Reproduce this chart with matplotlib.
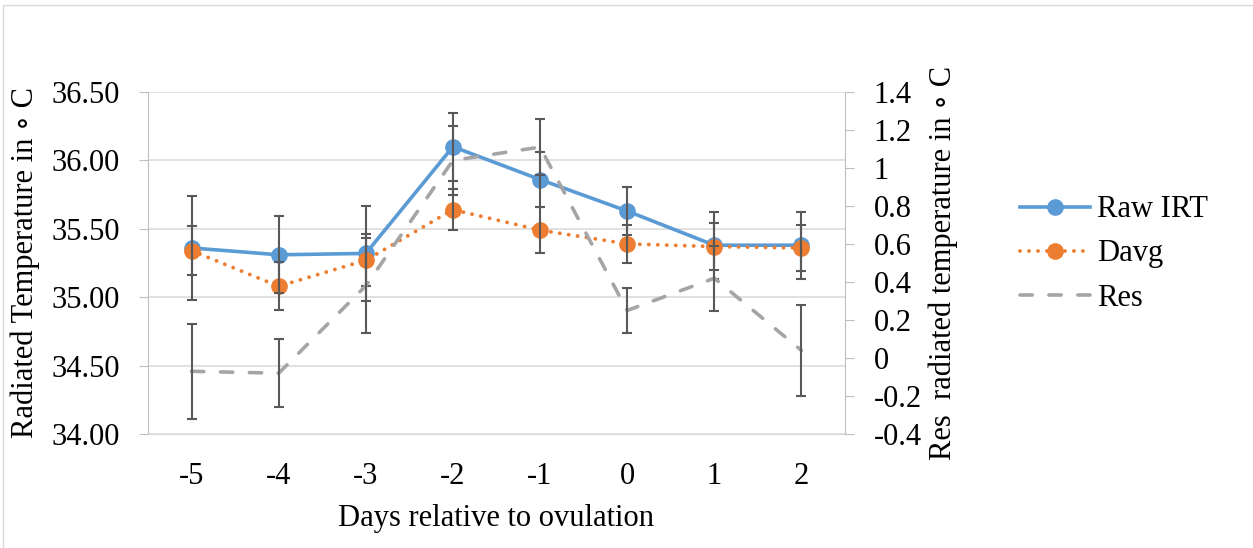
import matplotlib
matplotlib.use('Agg')
import matplotlib.pyplot as plt
from matplotlib.patches import Rectangle
from matplotlib.ticker import FuncFormatter

plt.rcParams['font.family'] = ['Liberation Serif', 'DejaVu Serif']
plt.rcParams['font.size'] = 22
plt.rcParams['axes.unicode_minus'] = False

# data
days = ['-5', '-4', '-3', '-2', '-1', '0', '1', '2']
raw_irt = [35.36, 35.31, 35.32, 36.10, 35.86, 35.63, 35.38, 35.38]
raw_err = [0.38, 0.28, 0.35, 0.25, 0.20, 0.175, 0.245, 0.245]
davg = [35.34, 35.08, 35.27, 35.64, 35.49, 35.39, 35.37, 35.36]
davg_err = [0.18, 0.175, 0.19, 0.15, 0.17, 0.14, 0.17, 0.167]
res = [-0.07, -0.08, 0.38, 1.04, 1.11, 0.25, 0.42, 0.04]
res_err = [0.25, 0.18, 0.25, 0.18, 0.147, 0.117, 0.17, 0.24]

left_ticks = [34.0, 34.5, 35.0, 35.5, 36.0, 36.5]
right_ticks = [-0.4, -0.2, 0, 0.2, 0.4, 0.6, 0.8, 1.0, 1.2, 1.4]

blue = '#5B9BD5'
orange = '#ED7D31'
grey = '#A5A5A5'
bar_col = '#595959'
W, H = 1253, 548

fig = plt.figure(figsize=(W / 100, H / 100), dpi=100)
ax = fig.add_axes([148 / W, 1 - 434 / H, 697 / W, 342 / H])
x = list(range(len(days)))

ax.set_xlim(-0.5, len(days) - 0.5)
ax.set_ylim(34.0, 36.5)
ax.set_xticks(x)
ax.set_xticklabels(days)
ax.set_yticks(left_ticks)
ax.yaxis.set_major_formatter(FuncFormatter(lambda v, p: f'{v:.2f}'))
ax.grid(axis='y', color='#D9D9D9', lw=1.1)
ax.set_axisbelow(True)
ax.spines['top'].set_visible(False)
ax.spines['right'].set_visible(False)
ax.spines['left'].set_color('#BFBFBF')
ax.spines['bottom'].set_color('#D9D9D9')
ax.tick_params(axis='y', length=6.5, color='#BFBFBF', pad=14)
ax.tick_params(axis='x', length=0, pad=20)

l1, = ax.plot(x, raw_irt, color=blue, lw=2.6, marker='o', ms=11, zorder=3, label='Raw IRT')
ax.errorbar(x, raw_irt, yerr=raw_err, fmt='none', ecolor=bar_col, elinewidth=1.5,
            capsize=3.5, capthick=1.5, zorder=4)
l2, = ax.plot(x, davg, color=orange, lw=2.8, ls=(0, (0.01, 2.3)), dash_capstyle='round',
              marker='o', ms=11, zorder=3, label='Davg')
ax.errorbar(x, davg, yerr=davg_err, fmt='none', ecolor=bar_col, elinewidth=1.5,
            capsize=3.5, capthick=1.5, zorder=4)

ax.set_xlabel('Days relative to ovulation')
ax.xaxis.set_label_coords(0.5, -0.205)
ax.set_ylabel('Radiated Temperature in \u2218 C')
ax.yaxis.set_label_coords(-0.155, 0.5)

ax2 = ax.twinx()
ax2.set_ylim(-0.4, 1.4)
ax2.set_yticks(right_ticks)
ax2.yaxis.set_major_formatter(FuncFormatter(lambda v, p: f'{round(v, 1):g}'))
for s in ['top', 'left', 'bottom']:
    ax2.spines[s].set_visible(False)
ax2.spines['right'].set_color('#BFBFBF')
ax2.tick_params(axis='y', length=6.5, color='#BFBFBF', pad=14)

l3, = ax2.plot(x, res, color=grey, lw=2.6, ls=(0, (3.4, 4.6)), dash_capstyle='round',
               zorder=3, label='Res')
ax2.errorbar(x, res, yerr=res_err, fmt='none', ecolor=bar_col, elinewidth=1.5,
             capsize=3.5, capthick=1.5, zorder=4)
ax2.set_ylabel('Res  radiated temperature in \u2218 C')
ax2.yaxis.set_label_coords(1.12, 0.5)

fig.legend(handles=[l1, l2, l3], loc='center left', bbox_to_anchor=(992 / W, 1 - 254 / H),
           frameon=False, handlelength=2.3, handletextpad=0.25, labelspacing=0.5)

# light frame around the chart area
fig.add_artist(Rectangle((3 / W, -0.05), 1.1, 1.05 - 5 / H, transform=fig.transFigure,
                         fill=False, edgecolor='#D9D9D9', lw=1))

fig.savefig('out.png', dpi=100)
